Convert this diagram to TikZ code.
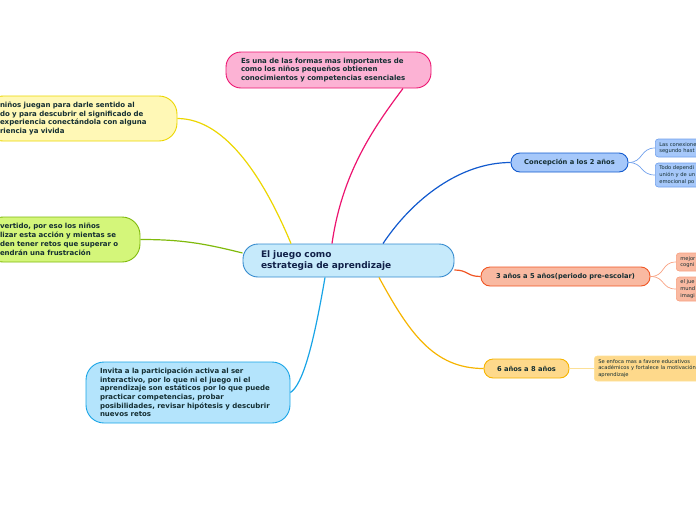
\documentclass[tikz,border=0pt]{standalone}
\usepackage{fontspec}
\setmainfont{DejaVu Sans}
\usepackage{tikz}
\usetikzlibrary{positioning}
\definecolor{ink}{RGB}{20,46,50}
\definecolor{navy}{RGB}{16,32,72}
\definecolor{hubline}{RGB}{52,138,206}
\definecolor{hubfill}{RGB}{198,234,251}
\definecolor{rosa}{RGB}{236,20,112}
\definecolor{rosafill}{RGB}{252,178,212}
\definecolor{amar}{RGB}{236,214,0}
\definecolor{amarfill}{RGB}{255,248,182}
\definecolor{verde}{RGB}{128,186,12}
\definecolor{verdefill}{RGB}{212,246,122}
\definecolor{cian}{RGB}{24,164,230}
\definecolor{cianfill}{RGB}{180,228,252}
\definecolor{azul}{RGB}{18,90,206}
\definecolor{azulfill}{RGB}{166,200,250}
\definecolor{azulsub}{RGB}{112,160,236}
\definecolor{naran}{RGB}{240,86,36}
\definecolor{naranfill}{RGB}{249,185,161}
\definecolor{naransub}{RGB}{248,160,128}
\definecolor{oro}{RGB}{246,180,0}
\definecolor{orofill}{RGB}{254,217,139}
\definecolor{orosub}{RGB}{252,224,150}

\begin{document}
\begin{tikzpicture}[x=1pt,y=-1pt,
  bubble/.style={draw,line width=0.9pt,rounded corners=15pt,align=left,inner ysep=0pt,
    text=ink,font=\fontsize{7}{8.8}\selectfont\bfseries},
  hubbox/.style={bubble,draw=hubline,fill=hubfill,text=navy,rounded corners=15pt,
    font=\fontsize{9}{11}\selectfont\bfseries},
  branch/.style={draw,line width=0.9pt,rounded corners=9pt,align=center,inner sep=0pt,
    minimum height=19pt,text=ink,font=\fontsize{6.7}{8}\selectfont\bfseries},
  leaf/.style={draw,line width=0.6pt,rounded corners=3pt,anchor=west,align=left,
    inner xsep=4pt,inner ysep=0pt,text=ink,font=\fontsize{5.2}{6.8}\selectfont},
  link/.style={line width=1.2pt},
  twig/.style={line width=0.7pt}]
  \useasboundingbox (0,0) rectangle (696,520);
  \clip (0,0) rectangle (696,520);

  % centre
  \node[hubbox,text width=175pt,inner xsep=18pt,minimum height=33pt] (hub) at (348.5,260.5)
    {El juego como\\estrategia de aprendizaje};

  % left and top ideas
  \node[bubble,draw=rosa,fill=rosafill,text width=175pt,inner xsep=15pt,minimum height=36pt] (forma) at (328.5,70)
    {Es una de las formas mas importantes de\\como los niños pequeños obtienen\\conocimientos y competencias esenciales};
  \node[bubble,draw=amar,fill=amarfill,text width=162pt,inner xsep=15pt,minimum height=45pt,rounded corners=18pt] (sentido) at (81,118.5)
    {niños juegan para darle sentido al\\do y para descubrir el significado de\\experiencia conectándola con alguna\\riencia ya vivida};
  \node[bubble,draw=verde,fill=verdefill,text width=125pt,inner xsep=15pt,minimum height=45pt,rounded corners=18pt] (divertido) at (62.5,239.5)
    {vertido, por eso los niños\\lizar esta acción y mientas se\\den tener retos que superar o\\endrán una frustración};
  \node[bubble,draw=cian,fill=cianfill,text width=176pt,inner xsep=14pt,minimum height=61pt,rounded corners=18pt,
    font=\fontsize{7}{8.6}\selectfont\bfseries] (invita) at (188,392.5)
    {Invita a la participación activa al ser\\interactivo, por lo que ni el juego ni el\\aprendizaje son estáticos por lo que puede\\practicar competencias, probar\\posibilidades, revisar hipótesis y descubrir\\nuevos retos};

  % age branches
  \node[branch,draw=azul,fill=azulfill,minimum width=117pt] (concep) at (569.5,162.5) {Concepción a los 2 años};
  \node[branch,draw=naran,fill=naranfill,minimum width=169pt] (preesc) at (565.5,276.5) {3 años a 5 años(periodo pre-escolar)};
  \node[branch,draw=oro,fill=orofill,minimum width=85pt] (seis) at (526.5,368.5) {6 años a 8 años};

  % leaves
  \node[leaf,draw=azulsub,fill=azulfill,text width=60pt,minimum height=18pt] (conexion) at (655,148) {Las conexione\\segundo hast};
  \node[leaf,draw=azulsub,fill=azulfill,text width=60pt,minimum height=24pt] (depende) at (655,175) {Todo dependi\\unión y de un\\emocional po};
  \node[leaf,draw=naransub,fill=naranfill,text width=40pt,minimum height=18pt] (mejor) at (676,262) {mejor\\cogni};
  \node[leaf,draw=naransub,fill=naranfill,text width=40pt,minimum height=24pt] (mundo) at (676,289) {el jue\\mund\\imagi};
  \node[leaf,draw=orosub,fill=orofill,text width=130pt,minimum height=25pt] (enfoca) at (594,368.5)
    {Se enfoca mas a favore educativos\\académicos y fortalece la motivación\\aprendizaje};

  % links from the centre
  \draw[link,rosa] ([xshift=-16.5pt]hub.north) .. controls +(10,-70) and +(-30,40) .. ([xshift=74.5pt]forma.south);
  \draw[link,amar] ([xshift=-57.5pt]hub.north) .. controls +(-25,-60) and +(50,0) .. (sentido.east);
  \draw[link,verde] ([yshift=7.5pt]hub.west) .. controls +(-40,-10) and +(40,0) .. (divertido.east);
  \draw[link,cian] ([xshift=-23.5pt]hub.south) .. controls +(-12,70) and +(12,-8) .. (invita.east);
  \draw[link,azul] ([xshift=34.5pt]hub.north) .. controls +(30,-45) and +(-50,0) .. (concep.west);
  \draw[link,naran] ([yshift=-9.5pt]hub.east) .. controls +(14,0) and +(-14,0) .. (preesc.west);
  \draw[link,oro] ([xshift=30.5pt]hub.south) .. controls +(30,55) and +(-50,0) .. (seis.west);

  % twigs to the leaves
  \draw[twig,azulsub] (concep.east) .. controls +(15,0) and +(-15,0) .. (conexion.west);
  \draw[twig,azulsub] (concep.east) .. controls +(15,0) and +(-15,0) .. (depende.west);
  \draw[twig,naransub] (preesc.east) .. controls +(15,0) and +(-15,0) .. (mejor.west);
  \draw[twig,naransub] (preesc.east) .. controls +(15,0) and +(-15,0) .. (mundo.west);
  \draw[twig,orosub] (seis.east) -- (enfoca.west);
\end{tikzpicture}
\end{document}
